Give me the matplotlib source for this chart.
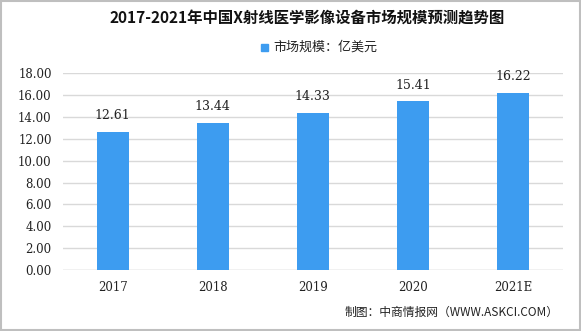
import matplotlib.pyplot as plt
from matplotlib.patches import Rectangle

plt.rcParams['font.family'] = ['Noto Sans CJK SC', 'DejaVu Sans']

years = ["2017", "2018", "2019", "2020", "2021E"]
market_size = [12.61, 13.44, 14.33, 15.41, 16.22]
yticks = [0, 2, 4, 6, 8, 10, 12, 14, 16, 18]

bar_color = "#3d9cf0"

fig = plt.figure(figsize=(5.81, 3.31), dpi=100)
ax = fig.add_axes([0.108, 0.184, 0.861, 0.595])

x = range(len(years))
ax.bar(x, market_size, width=0.32, color=bar_color, zorder=3)
for xi, v in zip(x, market_size):
    ax.text(xi, v + 0.9, f"{v:.2f}", ha="center", va="bottom", fontsize=9,
            family=["DejaVu Serif"], color="#222222")

ax.set_xlim(-0.5, len(years) - 0.5)
ax.set_ylim(0, 18)
ax.set_yticks(yticks)
ax.set_yticklabels([f"{t:.2f}" for t in yticks], family=["DejaVu Serif"], fontsize=8.5)
ax.set_xticks(list(x))
ax.set_xticklabels(years, family=["DejaVu Serif"], fontsize=8.5)
ax.tick_params(length=0, pad=8, colors="#222222")
ax.yaxis.grid(True, color="#d9d9d9", linewidth=1, zorder=0)
for s in ax.spines.values():
    s.set_visible(False)
ax.axhline(0, color="#d9d9d9", linewidth=1, zorder=2)

fig.text(0.528, 0.945, "2017-2021年中国X射线医学影像设备市场规模预测趋势图",
         ha="center", va="center", fontsize=11.1, fontweight="bold", color="#111111")

fig.patches.append(Rectangle((0.449, 0.845), 0.013, 0.022, transform=fig.transFigure,
                             color=bar_color, figure=fig))
fig.text(0.471, 0.857, "市场规模：亿美元", ha="left", va="center", fontsize=9.4, color="#222222")

fig.text(0.962, 0.055, "制图：中商情报网（WWW.ASKCI.COM）", ha="right", va="center",
         fontsize=8.5, color="#222222")

fig.patches.append(Rectangle((0.001, 0.002), 0.997, 0.995, transform=fig.transFigure,
                             fill=False, edgecolor="#bfbfbf", linewidth=1.5, figure=fig))

fig.savefig("out.png", dpi=100)
